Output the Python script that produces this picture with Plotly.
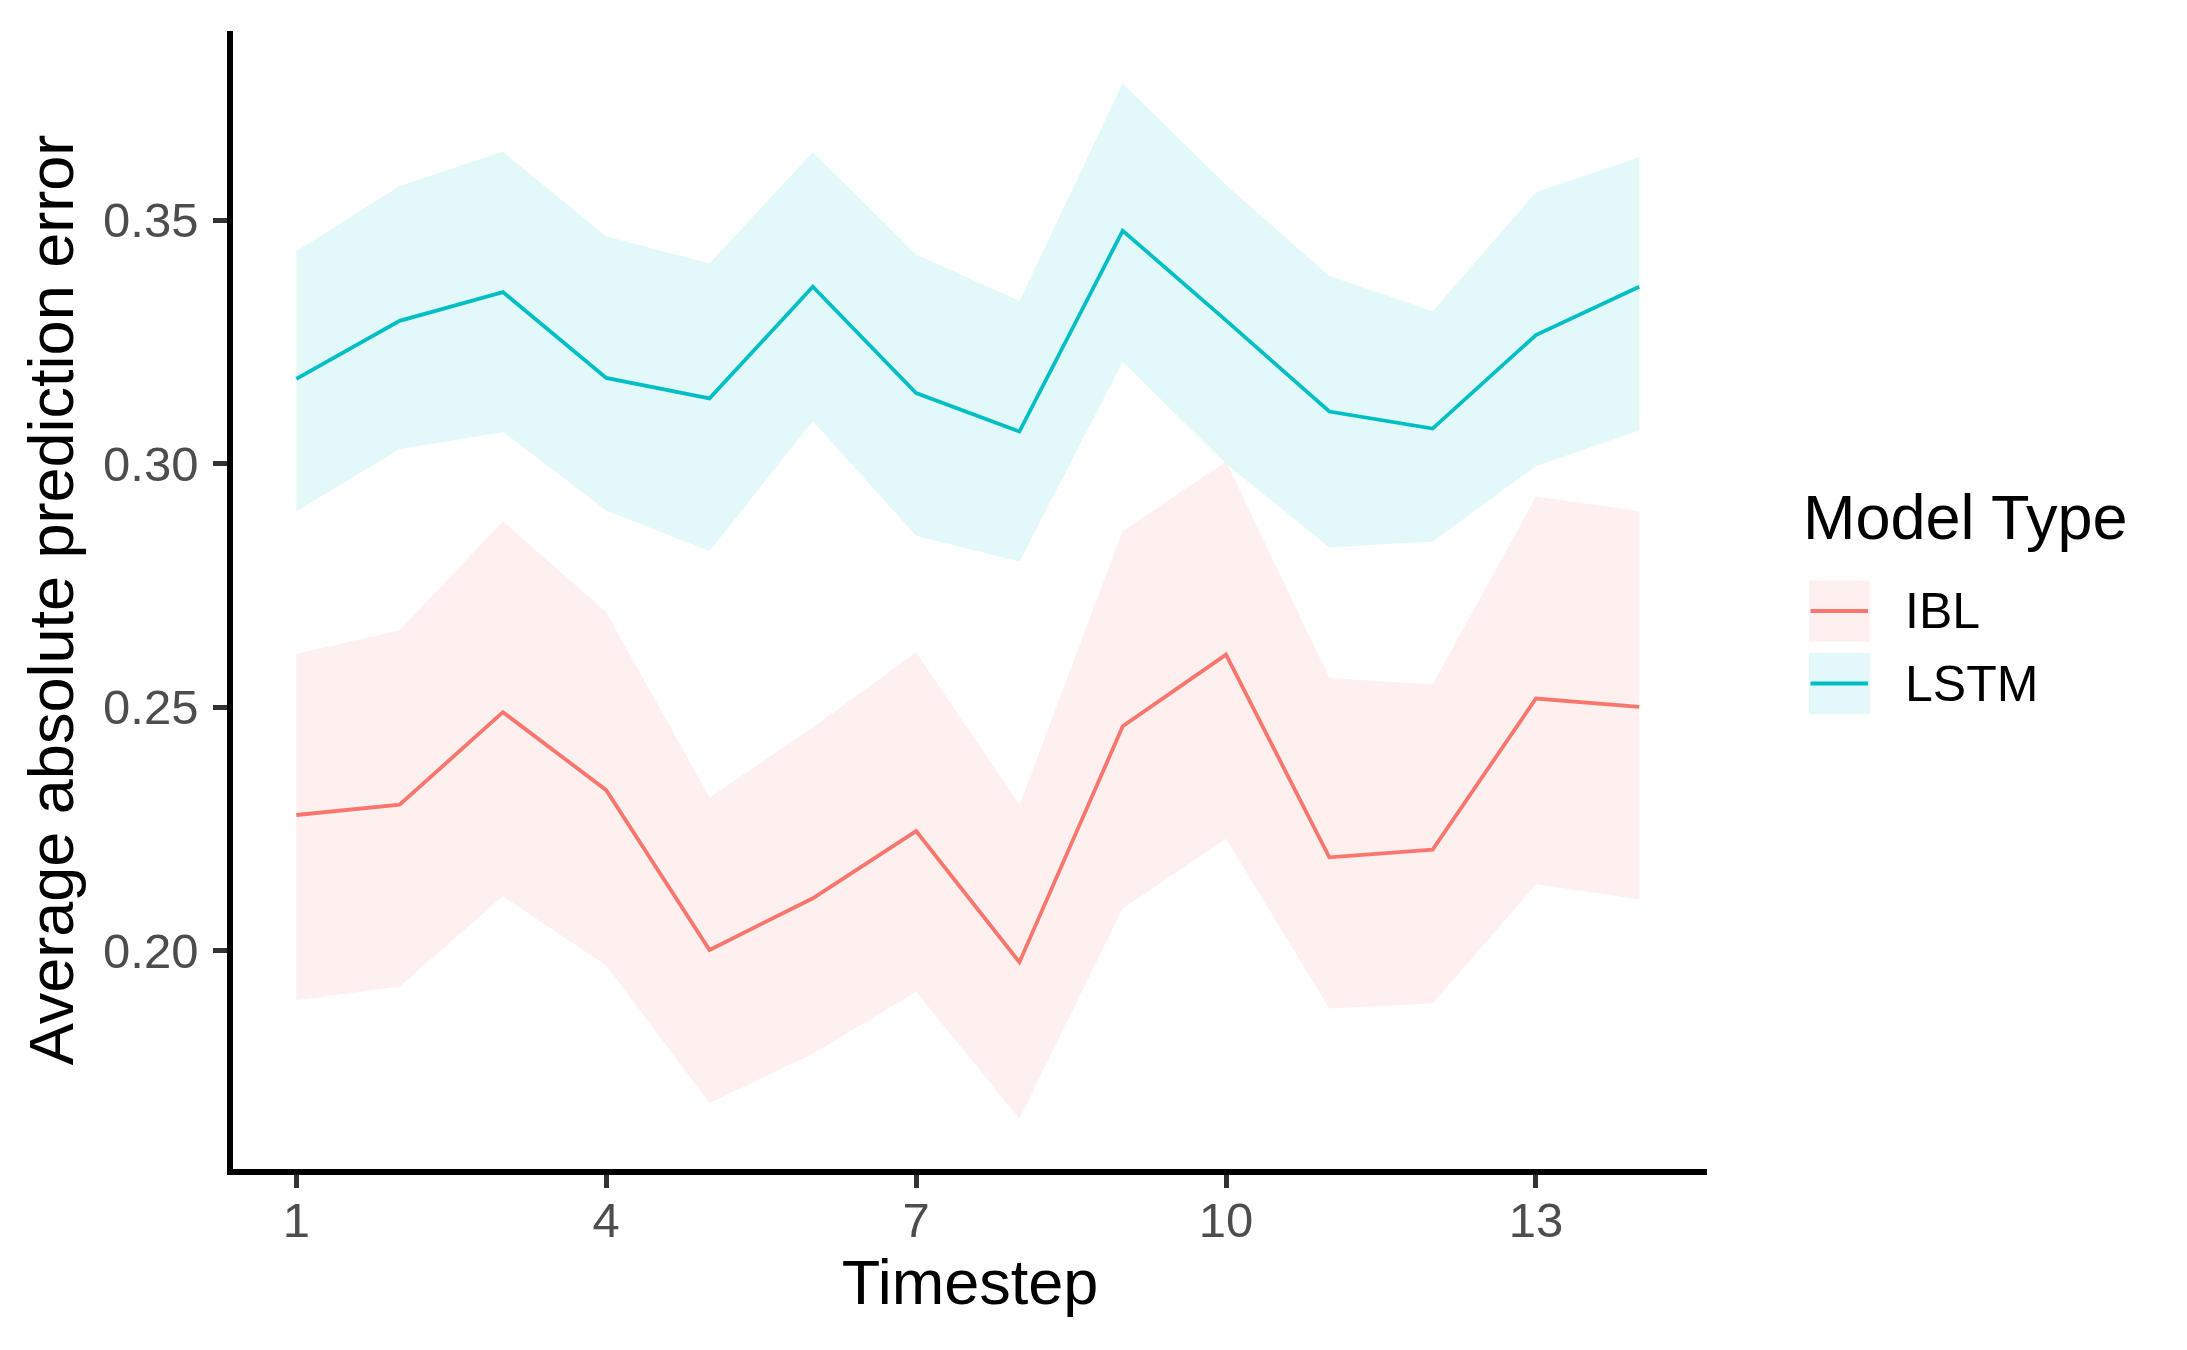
import plotly.graph_objects as go

# ---------------- data ----------------
timesteps = list(range(1, 15))

ibl_mean = [0.2279, 0.2300, 0.2490, 0.2330, 0.2002, 0.2108, 0.2246,
            0.1977, 0.2461, 0.2608, 0.2192, 0.2208, 0.2518, 0.2501]
ibl_upper = [0.2610, 0.2658, 0.2882, 0.2695, 0.2315, 0.2458, 0.2613,
             0.2299, 0.2862, 0.3004, 0.2560, 0.2547, 0.2932, 0.2903]
ibl_lower = [0.1899, 0.1927, 0.2112, 0.1970, 0.1688, 0.1789, 0.1916,
             0.1656, 0.2087, 0.2230, 0.1882, 0.1892, 0.2137, 0.2106]

lstm_mean = [0.3174, 0.3293, 0.3352, 0.3176, 0.3134, 0.3363, 0.3145,
             0.3066, 0.3478, 0.3294, 0.3107, 0.3072, 0.3264, 0.3363]
lstm_upper = [0.3436, 0.3570, 0.3640, 0.3466, 0.3411, 0.3639, 0.3429,
              0.3334, 0.3780, 0.3572, 0.3385, 0.3313, 0.3557, 0.3629]
lstm_lower = [0.2902, 0.3030, 0.3065, 0.2904, 0.2821, 0.3087, 0.2852,
              0.2799, 0.3209, 0.3000, 0.2828, 0.2840, 0.2995, 0.3068]

models = ["IBL", "LSTM"]
colors = {"IBL": "#F8766D", "LSTM": "#00BFC4"}
fills = {"IBL": "rgba(248,118,109,0.11)", "LSTM": "rgba(0,191,196,0.11)"}
series = {
    "IBL": (ibl_mean, ibl_lower, ibl_upper),
    "LSTM": (lstm_mean, lstm_lower, lstm_upper),
}

x_ticks = [1, 4, 7, 10, 13]
y_ticks = [0.20, 0.25, 0.30, 0.35]
y_tick_text = ["0.20", "0.25", "0.30", "0.35"]

legend_title = "Model Type"
x_title = "Timestep"
y_title = "Average absolute prediction error"

# ---------------- layout geometry ----------------
W, H = 2187, 1350
ML, MR, MT, MB = 233, 480, 31, 181
PW, PH = W - ML - MR, H - MT - MB
FONT = "Liberation Sans, Arial, Helvetica, sans-serif"
X_RANGE = [0.387, 14.656]
Y_RANGE = [0.15525, 0.38879]


def px_x(px):
    return (px - ML) / PW


def px_y(py):
    return (H - MB - py) / PH


fig = go.Figure()

# ribbons
for m in models:
    mean, lo, hi = series[m]
    fig.add_trace(go.Scatter(x=timesteps, y=lo, mode="lines",
                             line=dict(width=0, color=colors[m]),
                             showlegend=False, hoverinfo="skip"))
    fig.add_trace(go.Scatter(x=timesteps, y=hi, mode="lines", fill="tonexty",
                             fillcolor=fills[m],
                             line=dict(width=0, color=colors[m]),
                             showlegend=False, hoverinfo="skip"))

# lines
for m in models:
    mean, lo, hi = series[m]
    fig.add_trace(go.Scatter(x=timesteps, y=mean, mode="lines", name=m,
                             line=dict(width=3.8, color=colors[m]),
                             showlegend=False))

# manual legend (ggplot-style keys)
shapes = []
annotations = []
annotations.append(dict(text=legend_title, xref="paper", yref="paper",
                        x=px_x(1801), y=px_y(517), xanchor="left", yanchor="middle",
                        showarrow=False, font=dict(family=FONT, size=63, color="black")))
key_centers = {"IBL": 611, "LSTM": 683.5}
for m in models:
    cy = key_centers[m]
    shapes.append(dict(type="rect", xref="paper", yref="paper",
                       x0=px_x(1809), x1=px_x(1870), y0=px_y(cy - 30.5), y1=px_y(cy + 30.5),
                       fillcolor=fills[m], line=dict(width=0), layer="above"))
    shapes.append(dict(type="line", xref="paper", yref="paper",
                       x0=px_x(1810.5), x1=px_x(1868), y0=px_y(cy), y1=px_y(cy),
                       line=dict(color=colors[m], width=4), layer="above"))
    annotations.append(dict(text=m, xref="paper", yref="paper",
                            x=px_x(1903), y=px_y(cy), xanchor="left", yanchor="middle",
                            showarrow=False, font=dict(family=FONT, size=50, color="black")))

fig.update_layout(
    width=W, height=H,
    margin=dict(l=ML, r=MR, t=MT, b=MB, pad=0),
    paper_bgcolor="white", plot_bgcolor="white",
    font=dict(family=FONT, color="black"),
    showlegend=False,
    hovermode=False,
    shapes=shapes,
    annotations=annotations,
)

fig.update_xaxes(
    range=X_RANGE, tickmode="array", tickvals=x_ticks,
    ticks="outside", ticklen=13, tickwidth=5, tickcolor="#333333",
    showline=True, linecolor="black", linewidth=5.5,
    showgrid=False, zeroline=False,
    tickfont=dict(family=FONT, size=49, color="#4D4D4D"),
    ticklabelstandoff=-10,
    title=dict(text=x_title, font=dict(family=FONT, size=63, color="black"), standoff=14),
)
fig.update_yaxes(
    range=Y_RANGE, tickmode="array", tickvals=y_ticks, ticktext=y_tick_text,
    ticks="outside", ticklen=14, tickwidth=5, tickcolor="#333333",
    showline=True, linecolor="black", linewidth=5.5,
    showgrid=False, zeroline=False,
    tickfont=dict(family=FONT, size=49, color="#4D4D4D"),
    ticklabelstandoff=5,
    title=dict(text=y_title, font=dict(family=FONT, size=63, color="black"), standoff=11),
)

fig.write_html("out.html", config={"displayModeBar": False},
               post_script="document.body.style.margin='0px';")
